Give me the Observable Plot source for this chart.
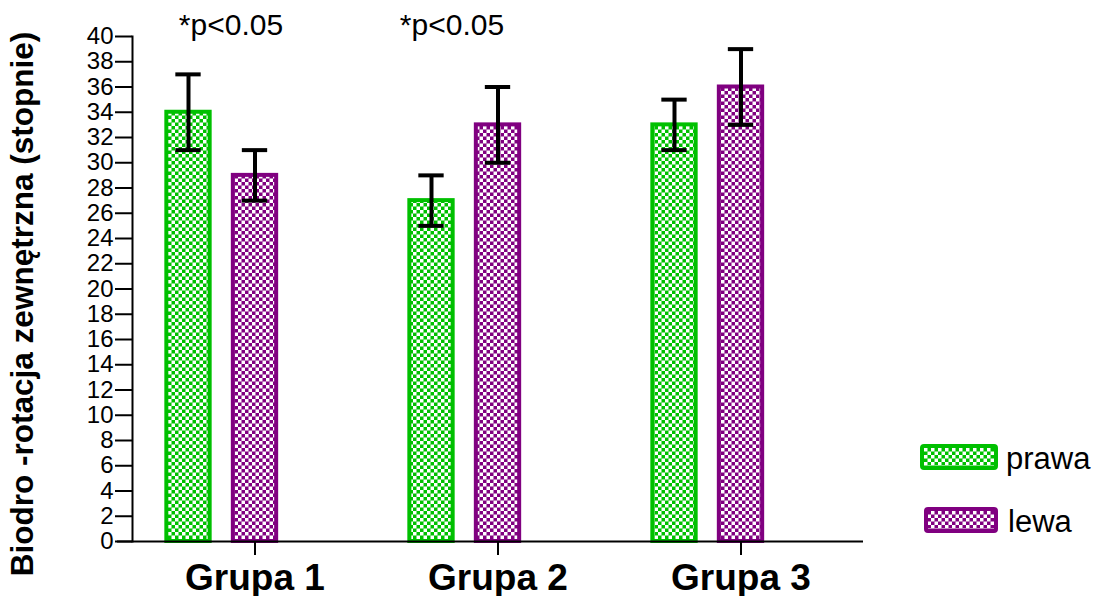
<!DOCTYPE html>
<html>
<head>
<meta charset="utf-8">
<script src="https://cdn.jsdelivr.net/npm/d3@7"></script>
<script src="https://cdn.jsdelivr.net/npm/@observablehq/plot@0.6"></script>
<style>
  html, body { margin: 0; padding: 0; background: #fff; }
  svg { display: block; }
</style>
</head>
<body>
<div id="chart"></div>
<script>
// ---- data ----
const groups = ["Grupa 1", "Grupa 2", "Grupa 3"];
const series = ["prawa", "lewa"];
const prawaMean = [34, 27, 33];
const prawaErr = [3, 2, 2];
const lewaMean = [29, 33, 36];
const lewaErr = [2, 3, 3];
const yTicks = d3.range(0, 41, 2);
const annotGroups = ["Grupa 1", "Grupa 2"];
const annotText = "*p<0.05";
const yLabel = "Biodro -rotacja zewnętrzna (stopnie)";

// ---- styles ----
const colors = {prawa: "#00c000", lewa: "#800080"};
const patternId = {prawa: "pat-prawa", lewa: "pat-lewa"};
const font = "Liberation Sans, Arial, sans-serif";

const rows = [];
groups.forEach((g, i) => {
  rows.push({group: g, series: "prawa", mean: prawaMean[i], err: prawaErr[i]});
  rows.push({group: g, series: "lewa", mean: lewaMean[i], err: lewaErr[i]});
});
const bySeries = s => rows.filter(d => d.series === s);

// bar placement (pixel insets within each group band)
const barW = 44;       // inner rect width (stroke adds 4)
const shift = {prawa: -66.5, lewa: 0};
const capW = 26;

const W = 1099, H = 596;
const mL = 132, mR = W - 863, mT = 36, mB = 55;
const band = (W - mL - mR) / groups.length;

function barMarks(s) {
  const base = (band - barW) / 2;
  return Plot.barY(bySeries(s), {
    x: "group", y: "mean",
    fill: `url(#${patternId[s]})`, stroke: colors[s], strokeWidth: 4,
    insetLeft: base + shift[s], insetRight: base - shift[s]
  });
}
function errMarks(s) {
  const base = (band - capW) / 2;
  const data = bySeries(s);
  return [
    Plot.ruleX(data, {x: "group", y1: d => d.mean - d.err, y2: d => d.mean + d.err,
      dx: shift[s], stroke: "#000", strokeWidth: 4}),
    Plot.tickY(data, {x: "group", y: d => d.mean + d.err, stroke: "#000", strokeWidth: 4,
      insetLeft: base + shift[s], insetRight: base - shift[s]}),
    Plot.tickY(data, {x: "group", y: d => d.mean - d.err, stroke: "#000", strokeWidth: 4,
      insetLeft: base + shift[s], insetRight: base - shift[s]})
  ];
}

const annotDx = [-24, -46];

const chart = Plot.plot({
  width: W, height: H,
  marginLeft: mL, marginRight: mR, marginTop: mT, marginBottom: mB,
  style: {fontFamily: font, color: "#000", background: "#fff", overflow: "visible"},
  x: {type: "band", domain: groups, padding: 0, label: null},
  y: {domain: [0, 40], label: null},
  marks: [
    ...series.map(barMarks),
    ...series.flatMap(errMarks),
    Plot.frame({anchor: "left", stroke: "#000", strokeWidth: 2}),
    Plot.ruleY([0], {stroke: "#000", strokeWidth: 2, insetLeft: -15}),
    Plot.axisY({ticks: yTicks, tickSize: 17, tickPadding: 2, fontSize: 24,
      tickFormat: d3.format("d"), strokeWidth: 2, label: null}),
    Plot.axisX({tickSize: 14, tickPadding: 8, fontSize: 37, fontWeight: "bold",
      strokeWidth: 2, label: null}),
    ...annotGroups.map((g, i) => Plot.text([g], {x: d => d, text: () => annotText,
      frameAnchor: "top", dy: -11, dx: annotDx[i], fontSize: 30, lineAnchor: "middle"})),
    Plot.text([yLabel], {text: d => d, frameAnchor: "left", rotate: -90, textAnchor: "middle",
      dx: -110, dy: 15, fontSize: 31.5, fontWeight: "bold", lineAnchor: "middle"})
  ]
});

// patterns
const svg = d3.select(chart);
const defs = svg.insert("defs", ":first-child");
const cell = 3.5;
series.forEach(s => {
  const p = defs.append("pattern").attr("id", patternId[s])
    .attr("patternUnits", "userSpaceOnUse").attr("width", 2 * cell).attr("height", 2 * cell);
  p.append("rect").attr("width", 2 * cell).attr("height", 2 * cell).attr("fill", colors[s]);
  p.append("rect").attr("x", 0).attr("y", 0).attr("width", cell).attr("height", cell).attr("fill", "#fff");
  p.append("rect").attr("x", cell).attr("y", cell).attr("width", cell).attr("height", cell).attr("fill", "#fff");
});

// legend
const legend = svg.append("g").attr("font-family", font).attr("text-anchor", "start");
const legendItems = [
  {s: "prawa", x: 922, y: 446, w: 74, tx: 1006, ty: 458},
  {s: "lewa", x: 926, y: 509, w: 70, tx: 1008, ty: 521}
];
legendItems.forEach(it => {
  legend.append("rect").attr("x", it.x).attr("y", it.y).attr("width", it.w).attr("height", 22)
    .attr("rx", 2).attr("fill", `url(#${patternId[it.s]})`)
    .attr("stroke", colors[it.s]).attr("stroke-width", 4);
  legend.append("text").attr("x", it.tx).attr("y", it.ty).attr("dy", "0.35em")
    .attr("font-size", 31).attr("fill", "#000").attr("text-anchor", "start").text(it.s);
});

document.getElementById("chart").appendChild(chart);
</script>
</body>
</html>
